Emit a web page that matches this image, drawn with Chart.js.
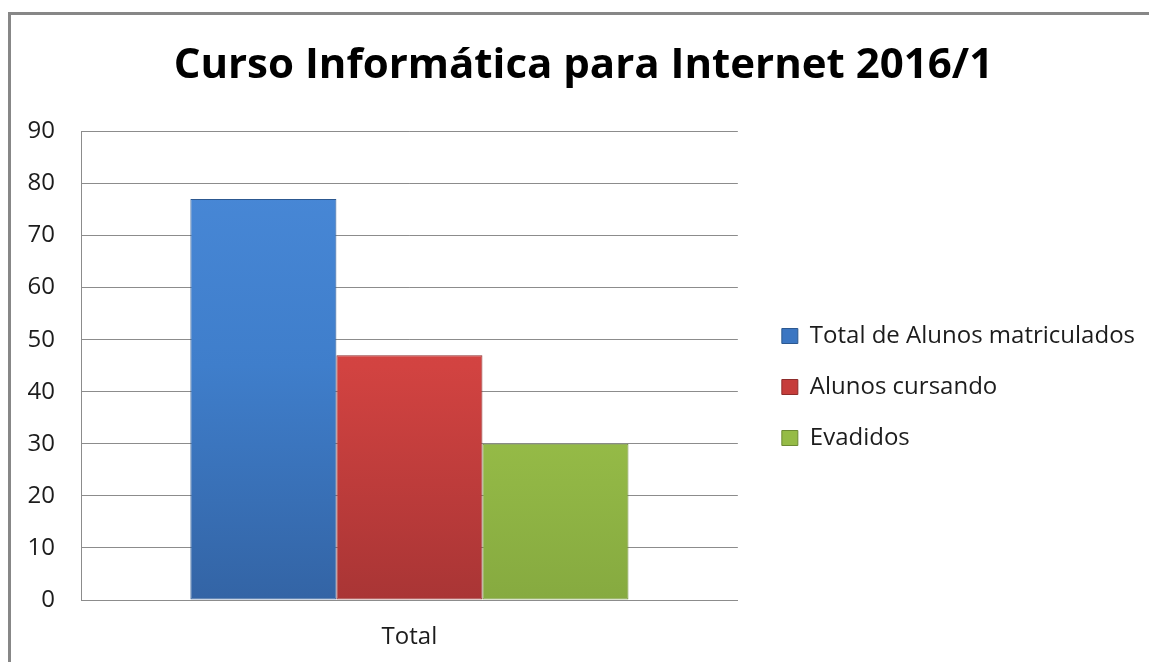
<!DOCTYPE html>
<html>
<head>
<meta charset="utf-8">
<script src="https://cdn.jsdelivr.net/npm/chart.js@4/dist/chart.umd.min.js"></script>
<style>
  html, body { margin: 0; padding: 0; background: #ffffff; }
  #wrap { position: relative; width: 1149px; height: 662px; overflow: hidden; }
  #c { position: absolute; left: 0; top: 0; }
  #frame { position: absolute; left: 8px; top: 12px; width: 1200px; height: 700px;
           border-left: 3px solid #878787; border-top: 3px solid #878787; pointer-events: none; }
</style>
</head>
<body>
<div id="wrap">
  <canvas id="c" width="1149" height="662"></canvas>
  <div id="frame"></div>
</div>
<script>
const titleText = '\u00a0\u00a0Curso Informática para Internet 2016/1';
const categories = ['Total'];
const seriesNames = ['Total de Alunos matriculados', 'Alunos cursando', 'Evadidos'];
const matriculados = [77];
const cursando = [47];
const evadidos = [30];
const yTicks = [0, 10, 20, 30, 40, 50, 60, 70, 80, 90];

const FONT = '"Open Sans", Lato, "DejaVu Sans", sans-serif';
const TEXT = '#1c1c1c';
const palette = [
  { top: '#4a8ad9', mid: '#3f7ecb', bot: '#3364a5', line: '#2c5890', solid: '#3b76c2' },
  { top: '#dc4a48', mid: '#d24341', bot: '#a93535', line: '#8e2c2b', solid: '#c63d3b' },
  { top: '#aad256', mid: '#9cc24a', bot: '#86aa40', line: '#6c8a33', solid: '#95bb46' }
];

function gradFor(i) {
  return function (ctx) {
    const chart = ctx.chart;
    const area = chart.chartArea;
    if (!area) return palette[i].solid;
    const g = chart.ctx.createLinearGradient(0, area.top, 0, area.bottom);
    g.addColorStop(0, palette[i].top);
    g.addColorStop(0.5, palette[i].mid);
    g.addColorStop(1, palette[i].bot);
    return g;
  };
}

const seriesData = [matriculados, cursando, evadidos];
const datasets = seriesNames.map((name, i) => ({
  label: name,
  data: seriesData[i],
  backgroundColor: gradFor(i),
  borderColor: palette[i].line,
  borderWidth: 1,
  borderSkipped: false,
  categoryPercentage: 0.667,
  barPercentage: 1.0
}));

new Chart(document.getElementById('c'), {
  type: 'bar',
  data: { labels: categories, datasets: datasets },
  options: {
    responsive: false,
    animation: false,
    devicePixelRatio: 1,
    layout: { padding: { left: 0, right: 4, top: 0, bottom: 0 } },
    plugins: {
      tooltip: { enabled: false },
      title: {
        display: true,
        text: titleText,
        color: '#000000',
        font: { family: FONT, size: 42, weight: 'bold', lineHeight: 1.2 },
        padding: { top: 41, bottom: 40 }
      },
      legend: {
        display: true,
        position: 'right',
        align: 'center',
        maxWidth: 480,
        title: { display: true, text: ' ', font: { size: 12, lineHeight: 1 }, padding: { top: 83, bottom: 0 } },
        labels: {
          boxWidth: 16,
          boxHeight: 15,
          padding: 44,
          color: TEXT,
          font: { family: FONT, size: 24, lineHeight: '7px' },
          generateLabels: function (chart) {
            return chart.data.datasets.map((ds, i) => ({
              text: [ds.label],
              fillStyle: palette[i].solid,
              strokeStyle: palette[i].line,
              fontColor: TEXT,
              lineWidth: 1,
              hidden: false,
              datasetIndex: i
            }));
          }
        }
      }
    },
    scales: {
      x: {
        grid: { display: false, drawTicks: false },
        border: { display: true, color: '#8c8c8c', width: 1 },
        ticks: { color: TEXT, font: { family: FONT, size: 24 }, padding: 23 },
        afterFit: function (s) { s.height = 62; }
      },
      y: {
        min: 0,
        max: 90,
        afterBuildTicks: function (s) { s.ticks = yTicks.map(v => ({ value: v })); },
        grid: { color: '#8c8c8c', lineWidth: 1, drawTicks: false },
        border: { display: true, color: '#8c8c8c', width: 1 },
        ticks: { color: TEXT, font: { family: FONT, size: 24 }, padding: 26 },
        afterFit: function (s) { s.width = 81; }
      }
    }
  }
});
</script>
</body>
</html>
